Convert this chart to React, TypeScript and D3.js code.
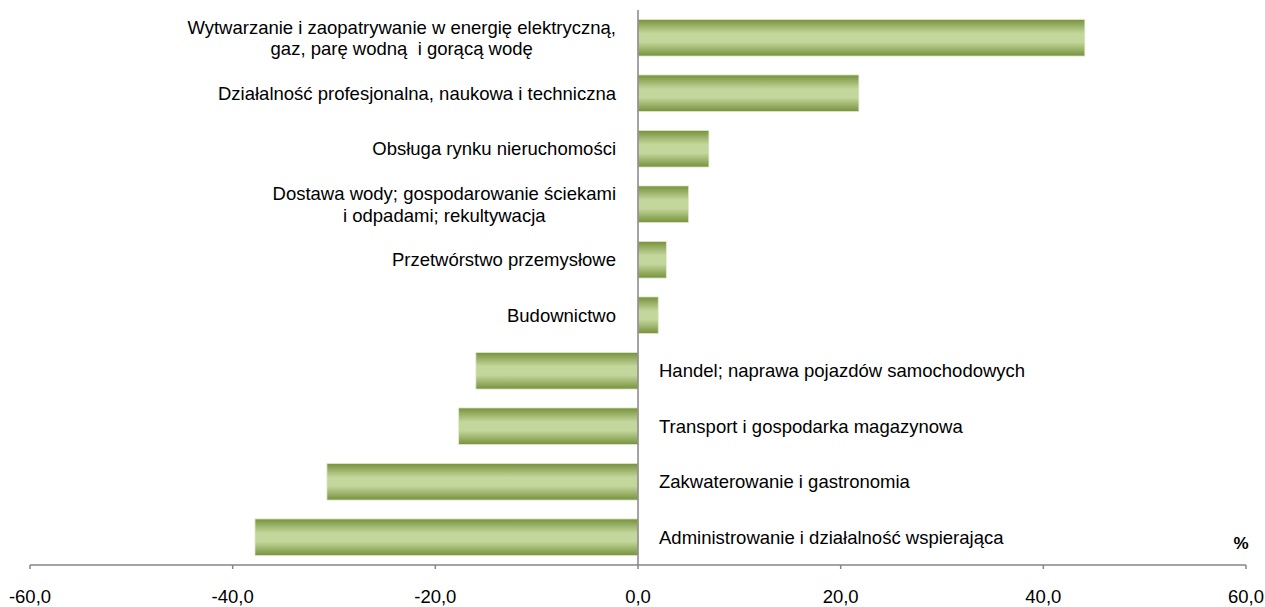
import React from "react";
import * as d3 from "d3";

const categories: string[][] = [
  ["Wytwarzanie i zaopatrywanie w energię elektryczną,", "gaz, parę wodną  i gorącą wodę"],
  ["Działalność profesjonalna, naukowa i techniczna"],
  ["Obsługa rynku nieruchomości"],
  ["Dostawa wody; gospodarowanie ściekami", "i odpadami; rekultywacja"],
  ["Przetwórstwo przemysłowe"],
  ["Budownictwo"],
  ["Handel; naprawa pojazdów samochodowych"],
  ["Transport i gospodarka magazynowa"],
  ["Zakwaterowanie i gastronomia"],
  ["Administrowanie i działalność wspierająca"],
];
const values: number[] = [44.1, 21.8, 7.0, 5.0, 2.8, 2.0, -16.0, -17.7, -30.7, -37.8];
const ticks: number[] = [-60, -40, -20, 0, 20, 40, 60];
const unitLabel = "%";

const FONT_SIZE = 18.5;
const FONT = "'Liberation Sans', Arial, sans-serif";

function measure(s: string): number {
  if (typeof document === "undefined") return s.length * FONT_SIZE * 0.5;
  const c = document.createElement("canvas");
  const ctx = c.getContext("2d");
  if (!ctx) return s.length * FONT_SIZE * 0.5;
  ctx.font = `${FONT_SIZE}px 'Liberation Sans'`;
  return ctx.measureText(s).width;
}

export default function App() {
  const W = 1265, H = 607;
  const x = d3.scaleLinear().domain([-60, 60]).range([30, 1246]);
  const ids = categories.map((_, i) => String(i));
  const y = d3.scaleBand().domain(ids).range([10, 565]).paddingInner(0.34).paddingOuter(0.17);
  const axisY = 565;
  const axisColor = "#868686";
  const fmt = (v: number) => v.toFixed(1).replace(".", ",");
  const lh = 21.5;
  return (
    <svg width={W} height={H} style={{ position: "absolute", left: 0, top: 0 }} fontFamily={FONT}>
      <defs>
        <linearGradient id="barGrad" x1="0" y1="0" x2="0" y2="1">
          <stop offset="0" stopColor="#76923c" />
          <stop offset="0.38" stopColor="#c3d69b" />
          <stop offset="0.62" stopColor="#c3d69b" />
          <stop offset="1" stopColor="#76923c" />
        </linearGradient>
      </defs>
      {values.map((v, i) => {
        const y0 = y(ids[i])!;
        const x0 = x(Math.min(0, v));
        const x1 = x(Math.max(0, v));
        return (
          <rect key={i} x={x0} y={y0} width={x1 - x0} height={y.bandwidth()}
            fill="url(#barGrad)" stroke="#e3ecd0" strokeWidth={0.8} />
        );
      })}
      <line x1={x(-60)} x2={x(60)} y1={axisY} y2={axisY} stroke={axisColor} strokeWidth={1.5} />
      {ticks.map((t) => (
        <g key={t}>
          <line x1={x(t)} x2={x(t)} y1={axisY} y2={axisY + 4} stroke={axisColor} strokeWidth={1.5} />
          <text x={x(t)} y={602.5} textAnchor="middle" fontSize={FONT_SIZE} fill="#000">{fmt(t)}</text>
        </g>
      ))}
      <line x1={x(0)} x2={x(0)} y1={10} y2={axisY} stroke={axisColor} strokeWidth={1.5} />
      {categories.map((lines, i) => {
        const cy = y(ids[i])! + y.bandwidth() / 2;
        const v = values[i];
        if (v >= 0) {
          const rightX = x(0) - 22;
          if (lines.length > 1) {
            const maxW = Math.max(...lines.map(measure));
            const center = rightX - maxW / 2;
            return (
              <text key={i} fontSize={FONT_SIZE} fill="#000" textAnchor="middle" style={{ whiteSpace: "pre" }}>
                {lines.map((l, j) => (
                  <tspan key={j} x={center} y={cy + (j - (lines.length - 1) / 2) * lh + 6.5}>{l}</tspan>
                ))}
              </text>
            );
          }
          return (
            <text key={i} x={rightX} y={cy + 6.5} fontSize={FONT_SIZE} fill="#000" textAnchor="end">{lines[0]}</text>
          );
        }
        return (
          <text key={i} x={x(0) + 21} y={cy + 6.5} fontSize={FONT_SIZE} fill="#000">{lines[0]}</text>
        );
      })}
      <text x={1241} y={549} textAnchor="middle" fontSize={17} fontWeight="bold" fill="#000">{unitLabel}</text>
    </svg>
  );
}
